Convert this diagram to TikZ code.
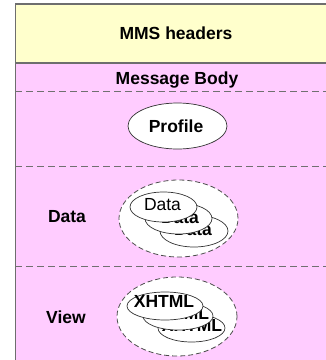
\documentclass[tikz,border=0pt]{standalone}
\usepackage{fontspec}
\setmainfont{Liberation Sans}
\usetikzlibrary{shapes.geometric}
\definecolor{hdrfill}{HTML}{FFFFCC}
\definecolor{bodyfill}{HTML}{FFCCFF}
\definecolor{framecol}{HTML}{6E6E6E}
\definecolor{dashcol}{HTML}{707070}
\tikzset{
  lbl/.style={font=\fontsize{17.5}{20}\selectfont\bfseries, inner sep=0pt},
  sep/.style={draw=dashcol, line width=1pt, dash pattern=on 7pt off 4pt},
  group/.style={ellipse, draw=black!70, fill=white, line width=0.8pt, dash pattern=on 5pt off 3pt, inner sep=0pt},
  part/.style={ellipse, draw=black!80, fill=white, line width=0.7pt, inner sep=0pt},
  ptext/.style={inner sep=0pt, font=\fontsize{17.5}{20}\selectfont\bfseries},
}
\begin{document}
\begin{tikzpicture}[x=1pt,y=-1pt]
\useasboundingbox (0,0) rectangle (326,360);
% message frame: header and body
\fill[hdrfill] (15.5,4) rectangle (330,63);
\fill[bodyfill] (15.5,63) rectangle (330,365);
\draw[framecol, line width=1.5pt] (330,4) -- (15.5,4) -- (15.5,365);
\draw[framecol, line width=1.5pt] (15.5,63) -- (330,63);
\node[lbl] (hdr) at (176,33) {MMS headers};
\node[lbl] (body) at (177,80) {Message Body};
% section separators
\draw[sep] (15.5,91) -- (330,91);
\draw[sep] (15.5,166) -- (330,166);
\draw[sep] (15.5,266) -- (330,266);
% profile part
\node[part, minimum width=99pt, minimum height=46pt] (profile) at (177.5,126) {};
\node[ptext] (profiletxt) at (176,126) {Profile};
% data section: stacked parts, drawn back to front
\node[lbl] (datalbl) at (67,217) {Data};
\node[group, minimum width=119pt, minimum height=77pt] (datagrp) at (178.5,218.5) {};
\node[part, minimum width=68pt, minimum height=32pt] (data3) at (194,231) {};
\node[ptext] (data3txt) at (193,229.5) {Data};
\node[part, minimum width=67pt, minimum height=31pt] (data2) at (178.5,218.5) {};
\node[ptext] (data2txt) at (180,218) {Data};
\node[part, minimum width=67pt, minimum height=30pt] (data1) at (163.5,207) {};
\node[ptext, font=\fontsize{17.5}{20}\selectfont] (data1txt) at (162.5,205) {Data};
% view section: stacked parts, drawn back to front
\node[lbl] (viewlbl) at (66,317) {View};
\node[group, minimum width=120pt, minimum height=79pt] (viewgrp) at (177,316.5) {};
\node[part, minimum width=67pt, minimum height=28pt] (view3) at (191.5,328) {};
\node[ptext] (view3txt) at (192,325) {XHTML};
\node[part, minimum width=70pt, minimum height=28pt] (view2) at (178,316) {};
\node[ptext] (view2txt) at (179,313.5) {XHTML};
\node[part, minimum width=76pt, minimum height=28pt] (view1) at (165,306) {};
\node[ptext] (view1txt) at (164,301.5) {XHTML};
\end{tikzpicture}
\end{document}
